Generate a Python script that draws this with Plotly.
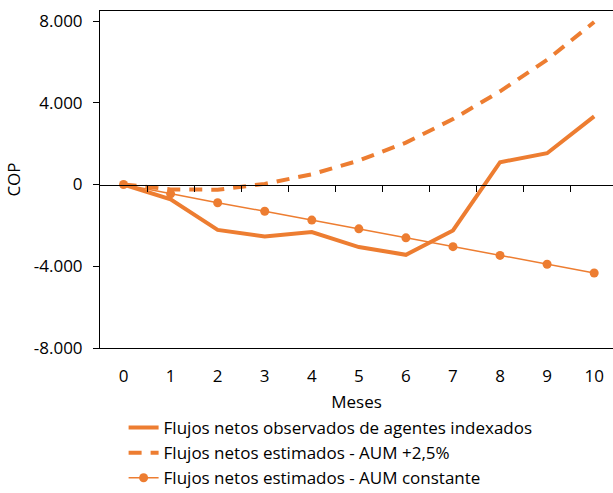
import plotly.graph_objects as go

months = list(range(11))
month_labels = [str(m) for m in months]

observed = [0, -720, -2220, -2540, -2330, -3060, -3440, -2250, 1090, 1530, 3330]
aum_plus = [0, -240, -255, 30, 500, 1170, 2050, 3200, 4560, 6100, 7950]
aum_const = [0, -455, -895, -1310, -1740, -2170, -2610, -3040, -3470, -3900, -4330]

y_ticks = [-8000, -4000, 0, 4000, 8000]
y_tick_labels = ["-8.000", "-4.000", "0", "4.000", "8.000"]

names = [
    "Flujos netos observados de agentes indexados",
    "Flujos netos estimados - AUM +2,5%",
    "Flujos netos estimados - AUM constante",
]

ORANGE = "#ED7D31"
FONT = "Open Sans"
FS = 17
Y_MIN, Y_MAX = -8000, 8490
X_RANGE = [-0.5, 10.4]

fig = go.Figure()
fig.add_trace(go.Scatter(x=months, y=observed, mode="lines", name=names[0],
                         line=dict(color=ORANGE, width=4)))
fig.add_trace(go.Scatter(x=months, y=aum_plus, mode="lines", name=names[1],
                         line=dict(color=ORANGE, width=4, dash="13px,9px")))
fig.add_trace(go.Scatter(x=months, y=aum_const, mode="lines+markers", name=names[2],
                         line=dict(color=ORANGE, width=1.5),
                         marker=dict(color=ORANGE, size=9, symbol="circle")))
# dummy trace so the zero-crossing category axis is drawn
fig.add_trace(go.Scatter(x=[None], y=[None], xaxis="x2", showlegend=False,
                         hoverinfo="skip", mode="lines"))

fig.update_layout(
    width=613, height=493,
    margin=dict(l=100, r=0, t=11, b=145, autoexpand=False),
    paper_bgcolor="white", plot_bgcolor="white",
    font=dict(family=FONT, size=FS, color="#000000"),
    showlegend=True,
    legend=dict(x=0.046, y=-0.184, xanchor="left", yanchor="top",
                font=dict(family=FONT, size=FS, color="#000000"),
                bgcolor="rgba(0,0,0,0)", tracegroupgap=0),
    xaxis=dict(range=X_RANGE, tickvals=months, ticktext=month_labels,
               ticks="outside", ticklen=13, tickcolor="rgba(0,0,0,0)",
               showline=True, linecolor="#000000", linewidth=1, mirror=True,
               showgrid=False, zeroline=False, automargin=False,
               title=dict(text="Meses", standoff=9,
                          font=dict(family=FONT, size=FS))),
    xaxis2=dict(range=X_RANGE, overlaying="x", anchor="free",
                position=(0 - Y_MIN) / (Y_MAX - Y_MIN),
                tickvals=[m + 0.5 for m in months[:-1]],
                showticklabels=False, ticks="outside", ticklen=6,
                tickcolor="#000000", showline=True, linecolor="#000000",
                linewidth=1, showgrid=False, zeroline=False, automargin=False),
    yaxis=dict(range=[Y_MIN, Y_MAX], tickvals=y_ticks, ticktext=y_tick_labels,
               ticks="outside", ticklen=6, tickcolor="#000000",
               ticklabelstandoff=7, automargin=False,
               showline=True, linecolor="#000000", linewidth=1, mirror=False,
               showgrid=False, zeroline=False,
               title=dict(text="COP", standoff=8,
                          font=dict(family=FONT, size=FS))),
)

fig.write_html("out.html")
